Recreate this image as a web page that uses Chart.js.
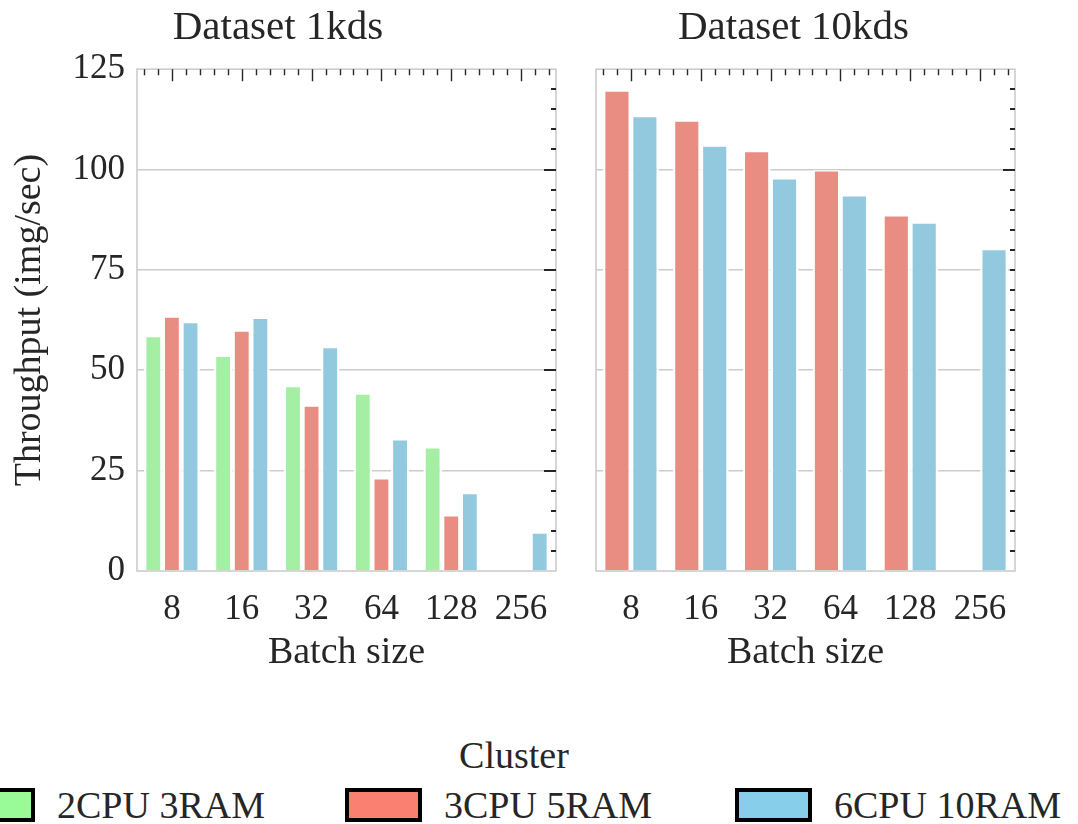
<!DOCTYPE html>
<html>
<head>
<meta charset="utf-8">
<script src="https://cdn.jsdelivr.net/npm/chart.js@4.4.1/dist/chart.umd.min.js"></script>
<style>
  body { margin: 0; width: 1078px; height: 824px; overflow: hidden; background: #fff; position: relative; font-family: 'Liberation Serif', serif; color: #262626; }
  .box { position: absolute; top: 0; height: 700px; }
  #legendTitle { position: absolute; top: 733px; left: 0; width: 1028px; text-align: center; font-size: 38px; }
  .item { position: absolute; top: 786px; height: 38px; display: flex; align-items: center; font-size: 38px; white-space: nowrap; }
  .patch { width: 69px; height: 26px; border: 4px solid #000; margin-right: 22px; flex: none; }
</style>
</head>
<body>
<div class="box" style="left:0;width:572px"><canvas id="c1"></canvas></div>
<div class="box" style="left:572px;width:506px"><canvas id="c2"></canvas></div>
<div id="legendTitle">Cluster</div>
<div id="legend"></div>
<script>
// 데이터
const batchSizes = ['8', '16', '32', '64', '128', '256'];
const clusters = ['2CPU 3RAM', '3CPU 5RAM', '6CPU 10RAM'];
const yTicks = [0, 25, 50, 75, 100, 125];

// Dataset 1kds
const kds1_2cpu = [58.5, 53.6, 46.1, 44.2, 30.8, null];
const kds1_3cpu = [63.4, 59.9, 41.2, 23.1, 13.9, null];
const kds1_6cpu = [62.0, 63.1, 55.8, 32.8, 19.4, 9.6];

// Dataset 10kds
const kds10_3cpu = [119.7, 112.2, 104.6, 99.8, 88.6, null];
const kds10_6cpu = [113.3, 106.0, 97.8, 93.6, 86.8, 80.2];

const barColors = ['#a4efa4', '#e98d83', '#93c9df'];
const legendColors = ['#98fb98', '#fa8072', '#87ceeb'];
const legendLeft = [-42, 345, 735];

Chart.defaults.font.family = "'Liberation Serif', serif";
Chart.defaults.color = '#262626';

// 테두리 + 안쪽 눈금
const frameTicks = {
    id: 'frameTicks',
    afterDatasetsDraw(chart, args, opts) {
        const ctx = chart.ctx, a = chart.chartArea, x = chart.scales.x, y = chart.scales.y;
        ctx.save();
        ctx.strokeStyle = '#cccccc';
        ctx.lineWidth = 1.6;
        ctx.strokeRect(a.left, a.top, a.width, a.height);
        ctx.strokeStyle = '#262626';
        ctx.lineWidth = 1.4;
        const x0 = x.getPixelForValue(0);
        const step = x.getPixelForValue(1) - x0;
        ctx.beginPath();
        for (let k = -2; k <= (batchSizes.length - 1) * 5 + 2; k++) {
            const px = Math.round(x0 + k * step / 5) + 0.5;
            const len = k % 5 === 0 ? 12 : 6;
            ctx.moveTo(px, a.top);
            ctx.lineTo(px, a.top + len);
        }
        ctx.stroke();
        ctx.lineWidth = 1.8;
        ctx.beginPath();
        for (let v = 5; v < 125; v += 5) {
            const py = Math.round(y.getPixelForValue(v));
            const len = opts.major.includes(v) ? 12 : 5;
            ctx.moveTo(a.right - len, py);
            ctx.lineTo(a.right, py);
        }
        ctx.stroke();
        ctx.restore();
    }
};

function makeChart(el, title, sets, showY, pad, major) {
    return new Chart(document.getElementById(el), {
        type: 'bar',
        data: {
            labels: batchSizes,
            datasets: sets.map(s => ({
                label: s.label,
                data: s.data,
                backgroundColor: s.color,
                borderColor: '#ffffff',
                borderWidth: { top: 1.2, left: 2.4, right: 2.4, bottom: 0 },
                borderSkipped: false,
                categoryPercentage: 0.8,
                barPercentage: 1.0
            }))
        },
        options: {
            responsive: true,
            maintainAspectRatio: false,
            animation: false,
            layout: { padding: pad },
            plugins: {
                legend: { display: false },
                tooltip: { enabled: false },
                title: {
                    display: true,
                    text: title,
                    font: { size: 41, weight: 'normal' },
                    padding: { top: 4, bottom: 16 }
                },
                frameTicks: { major: major }
            },
            scales: {
                x: {
                    grid: { display: false },
                    border: { display: false },
                    ticks: { font: { size: 35 }, padding: 10, maxRotation: 0, autoSkip: false },
                    title: { display: true, text: 'Batch size', font: { size: 38 }, padding: { top: 0, bottom: 24 } },
                    afterFit(s) { s.height = 129; }
                },
                y: {
                    min: 0,
                    max: 125,
                    afterBuildTicks(s) { s.ticks = yTicks.map(v => ({ value: v })); },
                    border: { display: false },
                    grid: {
                        drawTicks: false,
                        lineWidth: 1.6,
                        color: c => (c.tick.value === 0 || c.tick.value === 125) ? 'rgba(0,0,0,0)' : '#cccccc'
                    },
                    ticks: { display: showY, font: { size: 35 }, padding: 12 },
                    title: { display: showY, text: 'Throughput (img/sec)', font: { size: 38 }, padding: { top: 7, bottom: 0 } },
                    afterFit(s) { s.width = showY ? 137 : 24; }
                }
            }
        },
        plugins: [frameTicks]
    });
}

makeChart('c1', 'Dataset 1kds', [
    { label: clusters[0], data: kds1_2cpu, color: barColors[0] },
    { label: clusters[1], data: kds1_3cpu, color: barColors[1] },
    { label: clusters[2], data: kds1_6cpu, color: barColors[2] }
], true, { top: 0, right: 16, left: 0, bottom: 0 }, [25, 50, 75, 100]);

makeChart('c2', 'Dataset 10kds', [
    { label: clusters[1], data: kds10_3cpu, color: barColors[1] },
    { label: clusters[2], data: kds10_6cpu, color: barColors[2] }
], false, { top: 0, right: 63, left: 0, bottom: 0 }, [100]);

// 범례
const legend = document.getElementById('legend');
clusters.forEach((name, i) => {
    const item = document.createElement('div');
    item.className = 'item';
    item.style.left = legendLeft[i] + 'px';
    const patch = document.createElement('span');
    patch.className = 'patch';
    patch.style.background = legendColors[i];
    const txt = document.createElement('span');
    txt.textContent = name;
    item.appendChild(patch);
    item.appendChild(txt);
    legend.appendChild(item);
});
</script>
</body>
</html>
